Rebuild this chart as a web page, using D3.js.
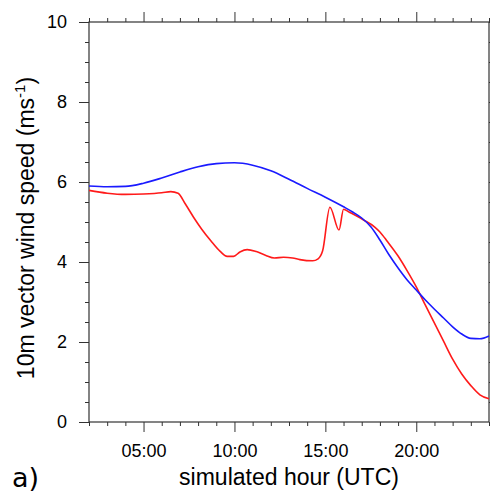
<!DOCTYPE html>
<html><head><meta charset="utf-8">
<script src="https://cdn.jsdelivr.net/npm/d3@7"></script>
<style>body{margin:0;background:#fff}svg{display:block}</style>
</head><body>
<script>
const blueHours = [2,3,4,5,6,7,8,9,10,11,12,13,14,15,16,16.5,17,17.5,18,18.5,19,19.5,20,20.5,21,21.5,22,22.5,23,23.5,24];
const blueSpeed = [5.90,5.88,5.89,5.97,6.10,6.25,6.38,6.46,6.48,6.42,6.28,6.07,5.84,5.62,5.38,5.25,5.10,4.88,4.55,4.18,3.85,3.55,3.30,3.05,2.82,2.60,2.38,2.20,2.09,2.08,2.15];
const redHours = [2,3,4,5,6,6.5,6.9,7.3,7.75,8.2,8.7,9.2,9.6,9.95,10.3,10.7,11.2,11.7,12.2,12.7,13.2,13.6,14.3,14.6,14.85,15.25,15.75,16.0,16.3,16.8,17.1,17.7,18.0,18.4,19.0,19.5,20.0,20.5,21.0,21.5,22.0,22.5,23.0,23.5,24.0];
const redSpeed = [5.79,5.72,5.69,5.70,5.73,5.76,5.72,5.45,5.12,4.82,4.53,4.27,4.14,4.14,4.25,4.31,4.26,4.17,4.10,4.12,4.10,4.06,4.03,4.08,4.28,5.37,4.80,5.32,5.25,5.13,5.05,4.88,4.75,4.52,4.15,3.78,3.38,2.92,2.47,2.02,1.57,1.20,0.91,0.68,0.58];
const xMajorTicks = [5,10,15,20];
const xTickLabels = ["05:00","10:00","15:00","20:00"];
const yMajorTicks = [0,2,4,6,8,10];

const W = 490, H = 494;
const L = 89, R = 489, T = 22, B = 422;
const svg = d3.select("body").append("svg").attr("width", W).attr("height", H);
const x = d3.scaleLinear().domain([2,24]).range([L,R]);
const y = d3.scaleLinear().domain([0,10]).range([B,T]);

const minorX = d3.range(2,25,1).filter(h => !xMajorTicks.includes(h));
const minorY = d3.range(0,10.01,0.5).filter(v => !yMajorTicks.includes(v));

const axisCol = "#333";
const FONT = "'Liberation Sans', Arial, sans-serif";
function styleAxis(g){
  g.select(".domain").remove();
  g.selectAll("line").attr("stroke", axisCol).attr("stroke-width", 1);
  g.selectAll("text").attr("font-family",FONT).attr("font-size","18px").attr("fill","#000");
}
// bottom
svg.append("g").attr("transform",`translate(0,${B})`)
  .call(d3.axisBottom(x).tickValues(xMajorTicks).tickFormat((d,i)=>xTickLabels[i]).tickSize(10).tickPadding(12))
  .call(styleAxis);
svg.append("g").attr("transform",`translate(0,${B})`)
  .call(d3.axisBottom(x).tickValues(minorX).tickFormat("").tickSize(4)).call(styleAxis);
// top
svg.append("g").attr("transform",`translate(0,${T})`)
  .call(d3.axisTop(x).tickValues(xMajorTicks).tickFormat("").tickSize(10)).call(styleAxis);
svg.append("g").attr("transform",`translate(0,${T})`)
  .call(d3.axisTop(x).tickValues(minorX).tickFormat("").tickSize(4)).call(styleAxis);
// left
svg.append("g").attr("transform",`translate(${L},0)`)
  .call(d3.axisLeft(y).tickValues(yMajorTicks).tickFormat(d3.format("d")).tickSize(10).tickPadding(12))
  .call(styleAxis);
svg.append("g").attr("transform",`translate(${L},0)`)
  .call(d3.axisLeft(y).tickValues(minorY).tickFormat("").tickSize(4)).call(styleAxis);
// right
svg.append("g").attr("transform",`translate(${R},0)`)
  .call(d3.axisRight(y).tickValues(yMajorTicks).tickFormat("").tickSize(10)).call(styleAxis);
svg.append("g").attr("transform",`translate(${R},0)`)
  .call(d3.axisRight(y).tickValues(minorY).tickFormat("").tickSize(4)).call(styleAxis);

// frame
svg.append("rect").attr("x",L).attr("y",T).attr("width",R-L).attr("height",B-T)
  .attr("fill","none").attr("stroke",axisCol).attr("stroke-width",1.2);

const line = d3.line().x(d=>x(d[0])).y(d=>y(d[1])).curve(d3.curveMonotoneX);
svg.append("path").datum(redHours.map((h,i)=>[h,redSpeed[i]]))
  .attr("d",line).attr("fill","none").attr("stroke","#ff1a1a").attr("stroke-width",1.6);
svg.append("path").datum(blueHours.map((h,i)=>[h,blueSpeed[i]]))
  .attr("d",line).attr("fill","none").attr("stroke","#1a1aff").attr("stroke-width",1.6);

// titles
svg.append("text").attr("x",(L+R)/2).attr("y",485).attr("text-anchor","middle")
  .attr("font-family",FONT).attr("font-size","23px")
  .text("simulated hour (UTC)");
const yt = svg.append("text").attr("transform",`translate(34,228) rotate(-90)`)
  .attr("text-anchor","middle")
  .attr("font-family",FONT).attr("font-size","23px");
yt.append("tspan").text("10m vector wind speed (ms");
yt.append("tspan").attr("font-size","15px").attr("dy","-9").text("-1");
yt.append("tspan").attr("dy","9").text(")");

svg.append("text").attr("x",12).attr("y",487)
  .attr("font-family","'DejaVu Sans', sans-serif").attr("font-size","27px").text("a)");
</script>
</body></html>
